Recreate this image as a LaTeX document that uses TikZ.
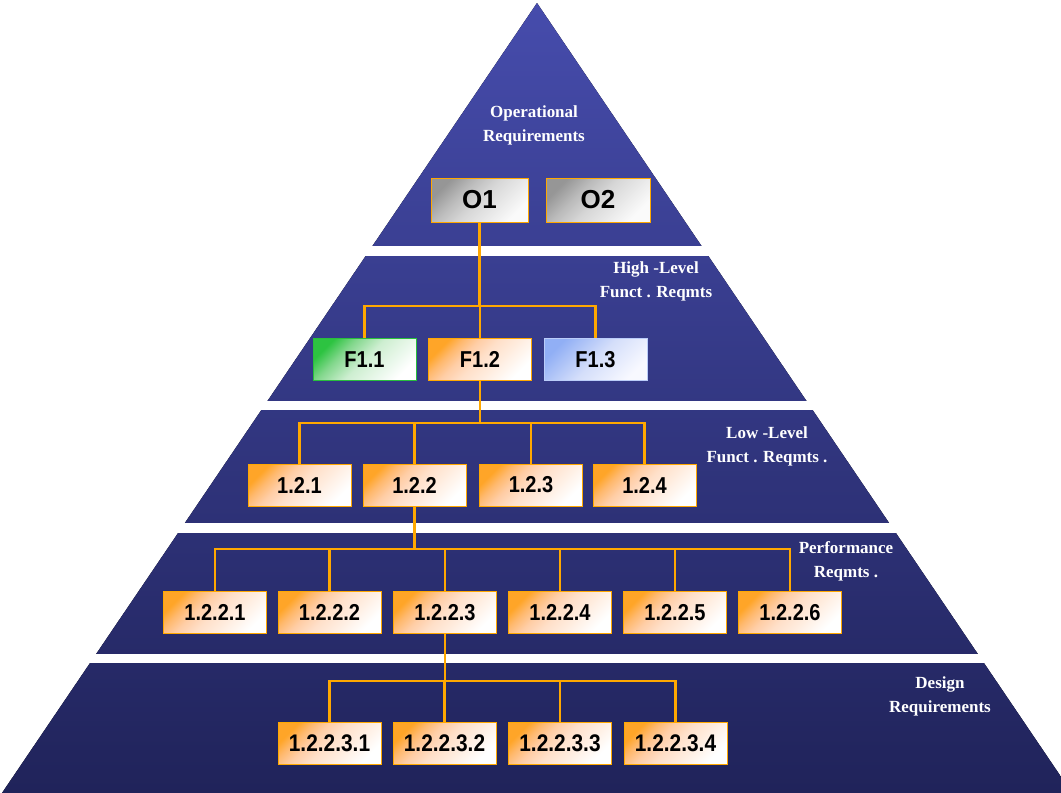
\documentclass[tikz,border=0pt]{standalone}
\usepackage{fontspec}
\setmainfont{Liberation Sans}[FakeStretch=0.87]
\newfontfamily\opfont{Liberation Sans}
\newfontfamily\lblfont{Liberation Serif}
\definecolor{pyrtop}{RGB}{70,76,172}
\definecolor{pyrbot}{RGB}{32,35,90}
\definecolor{linkorange}{RGB}{255,168,0}
\definecolor{boxgreen}{RGB}{40,190,60}
\definecolor{boxblue}{RGB}{140,170,245}
\pgfdeclareverticalshading{reqorange}{100bp}{color(0bp)=(white); color(25bp)=(white);
  color(40bp)=(rgb,255:red,255;green,236;blue,222); color(50bp)=(rgb,255:red,255;green,224;blue,202);
  color(60bp)=(rgb,255:red,255;green,205;blue,165); color(68bp)=(rgb,255:red,255;green,185;blue,110);
  color(75bp)=(rgb,255:red,255;green,165;blue,40); color(100bp)=(rgb,255:red,255;green,165;blue,40)}
\pgfdeclareverticalshading{reqgray}{100bp}{color(0bp)=(rgb,255:red,250;green,250;blue,250);
  color(25bp)=(rgb,255:red,250;green,250;blue,250); color(50bp)=(rgb,255:red,215;green,215;blue,215);
  color(62bp)=(rgb,255:red,188;green,188;blue,188); color(75bp)=(rgb,255:red,150;green,150;blue,150);
  color(100bp)=(rgb,255:red,150;green,150;blue,150)}
\pgfdeclareverticalshading{reqgreen}{100bp}{color(0bp)=(white); color(25bp)=(white);
  color(50bp)=(rgb,255:red,205;green,238;blue,208); color(64bp)=(rgb,255:red,130;green,215;blue,140);
  color(75bp)=(rgb,255:red,45;green,195;blue,65); color(100bp)=(rgb,255:red,45;green,195;blue,65)}
\pgfdeclareverticalshading{reqblue}{100bp}{color(0bp)=(rgb,255:red,248;green,249;blue,255);
  color(25bp)=(rgb,255:red,248;green,249;blue,255); color(50bp)=(rgb,255:red,212;green,222;blue,250);
  color(75bp)=(rgb,255:red,145;green,175;blue,245); color(100bp)=(rgb,255:red,145;green,175;blue,245)}
\tikzset{
  req/.style={draw=linkorange, line width=1pt, minimum width=103pt, minimum height=42pt,
    inner sep=0pt, font=\bfseries\fontsize{23}{24}\selectfont,
    shade, shading=reqorange, shading angle=45},
  opreq/.style={req, minimum height=44pt, font=\opfont\bfseries\fontsize{26}{28}\selectfont,
    shading=reqgray},
  link/.style={draw=linkorange, line width=2.5pt},
  lbl/.style={text=white, align=center, font=\lblfont\bfseries\fontsize{17}{24}\selectfont}
}
\begin{document}
\begin{tikzpicture}[x=1pt, y=-1pt]
\useasboundingbox (0,0) rectangle (1061,793);
% pyramid and the white gaps between its bands
\fill[top color=pyrtop, bottom color=pyrbot] (537,3) -- (1072,793) -- (2,793) -- cycle;
\foreach \ya/\yb in {246/256, 401/410, 523/533, 654/663}
  \fill[white] (0,\ya) rectangle (1061,\yb);
% band labels
\node[lbl] (oplbl) at (534,125) {Operational\\Requirements};
\node[lbl] (hllbl) at (656,281) {High -Level\\Funct . Reqmts};
\node[lbl] (lllbl) at (767,446) {Low -Level\\Funct . Reqmts .};
\node[lbl] (pflbl) at (846,561) {Performance\\Reqmts .};
\node[lbl] (dslbl) at (940,696) {Design\\Requirements};
% operational
\node[opreq, minimum width=97pt] (o1) at (479.5,200) {O1};
\node[opreq, minimum width=104pt] (o2) at (598,200) {O2};
% high level
\node[req, shading=reqgreen, draw=boxgreen] (f11) at (364.5,359.5) {F1.1};
\node[req] (f12) at (480,359.5) {F1.2};
\node[req, shading=reqblue, draw=boxblue!60!white] (f13) at (595.5,359.5) {F1.3};
% low level
\foreach \x [count=\i] in {299.5, 414.5, 531, 644.5}
  \node[req] (l\i) at (\x,485) {1.2.\i};
% performance
\foreach \x [count=\i] in {215, 329.5, 445, 560, 675, 790}
  \node[req] (p\i) at (\x,612.5) {1.2.2.\i};
% design
\foreach \x [count=\i] in {329.5, 444.5, 560, 675.5}
  \node[req, font=\bfseries\fontsize{24}{24}\selectfont] (d\i) at (\x,743) {1.2.2.3.\i};
% connectors
\coordinate (bus1) at (481,306);
\coordinate (bus2) at (481,423);
\coordinate (bus3) at (416,549);
\coordinate (bus4) at (446,681);
\draw[link] (o1.south) -- (o1.south |- bus1);
\draw[link] (f11.north) -- (f11.north |- bus1) -- (f13.north |- bus1) -- (f13.north);
\draw[link] (f12.north) -- (f12.north |- bus1);
\draw[link] (f12.south) -- (f12.south |- bus2);
\draw[link] (l1.north) -- (l1.north |- bus2) -- (l4.north |- bus2) -- (l4.north);
\foreach \n in {l2, l3} \draw[link] (\n.north) -- (\n.north |- bus2);
\draw[link] (l2.south) -- (l2.south |- bus3);
\draw[link] (p1.north) -- (p1.north |- bus3) -- (p6.north |- bus3) -- (p6.north);
\foreach \n in {p2, p3, p4, p5} \draw[link] (\n.north) -- (\n.north |- bus3);
\draw[link] (p3.south) -- (p3.south |- bus4);
\draw[link] (d1.north) -- (d1.north |- bus4) -- (d4.north |- bus4) -- (d4.north);
\foreach \n in {d2, d3} \draw[link] (\n.north) -- (\n.north |- bus4);
\end{tikzpicture}
\end{document}
